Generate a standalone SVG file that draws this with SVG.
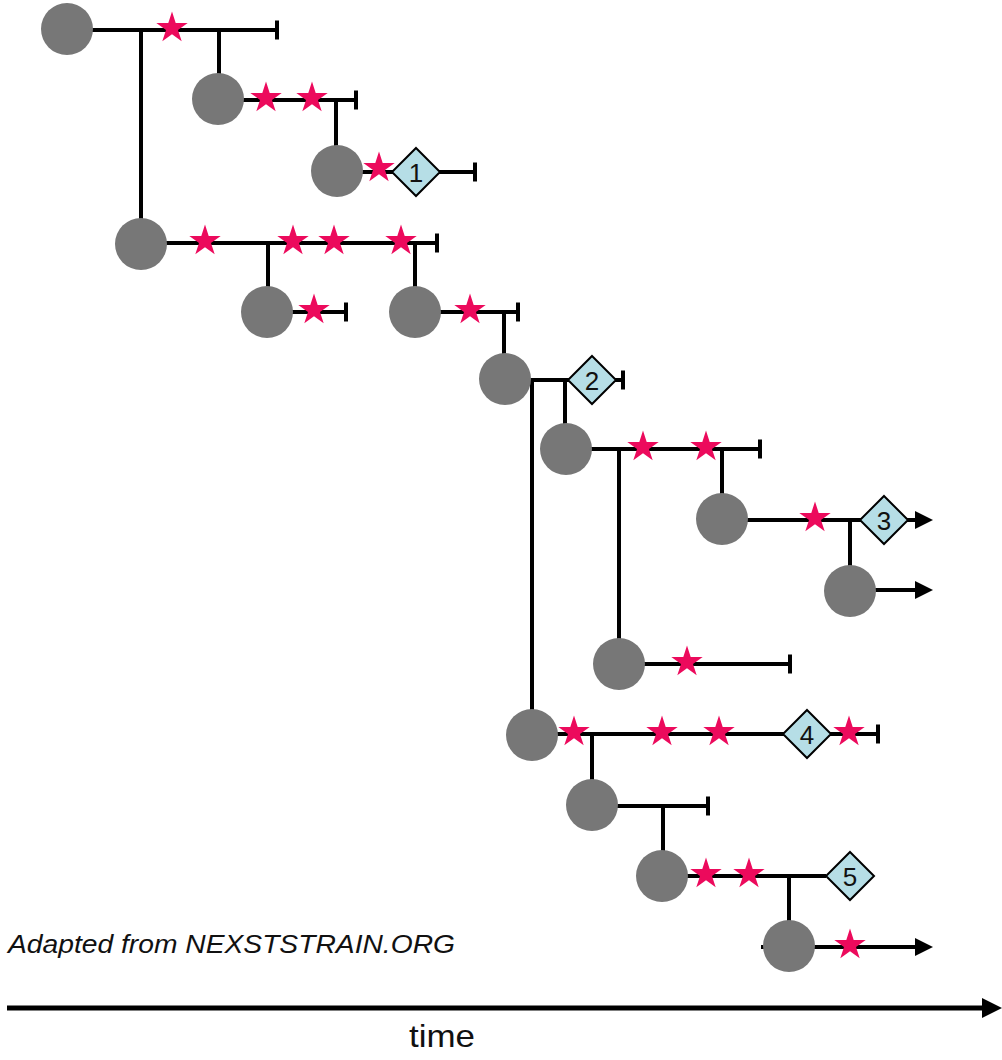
<svg xmlns="http://www.w3.org/2000/svg" xmlns:xlink="http://www.w3.org/1999/xlink" width="1002" height="1060" viewBox="0 0 1002 1060">
  <style>
    .edge { stroke: #000; stroke-width: 4; fill: none; }
    .node { fill: #777777; }
    .mut { fill: #EC0A5C; }
    .clade { fill: #B6DEE6; stroke: #000; stroke-width: 2; }
    .clade-label { font-family: "Liberation Sans", Arial, sans-serif; font-size: 26px; fill: #111; text-anchor: middle; }
    .note { font-family: "Liberation Sans", Arial, sans-serif; font-style: italic; font-size: 26px; fill: #111; }
    .axis-label { font-family: "Liberation Sans", Arial, sans-serif; font-size: 32px; fill: #111; text-anchor: middle; }
  </style>
  <defs>
    <marker id="head" markerUnits="userSpaceOnUse" markerWidth="18" markerHeight="18" refX="5" refY="9" orient="auto">
      <path d="M0,0 L18,9 L0,18 Z" fill="#000"/>
    </marker>
    <marker id="axis-head" markerUnits="userSpaceOnUse" markerWidth="20" markerHeight="20" refX="4" refY="10" orient="auto">
      <path d="M0,0 L20,10 L0,20 Z" fill="#000"/>
    </marker>
    <path id="star" d="M0,-16.5 L3.70,-5.10 L15.69,-5.10 L5.99,1.95 L9.70,13.35 L0,6.3 L-9.70,13.35 L-5.99,1.95 L-15.69,-5.10 L-3.70,-5.10 Z"/>
    <path id="diamond" d="M0,-24 L24,0 L0,24 L-24,0 Z"/>
  </defs>

  <!-- branches: horizontal lineages, vertical splits, end ticks -->
  <g id="connectors" class="edge">
    <!-- horizontal lineages -->
    <path d="M67,30 H277"/>
    <path d="M218,100 H356"/>
    <path d="M337,172 H475"/>
    <path d="M141,243 H437"/>
    <path d="M267,312 H346"/>
    <path d="M415,312 H518"/>
    <path d="M505,380 H623"/>
    <path d="M566,449 H760"/>
    <path d="M722,520 H920" marker-end="url(#head)"/>
    <path d="M850,590 H920" marker-end="url(#head)"/>
    <path d="M619,664 H790"/>
    <path d="M532,734 H878"/>
    <path d="M592,806 H708"/>
    <path d="M662,876 H826"/>
    <path d="M761,947 H920" marker-end="url(#head)"/>
    <!-- vertical splits -->
    <path d="M141,30 V244"/>
    <path d="M219,30 V99"/>
    <path d="M336,100 V171"/>
    <path d="M268,243 V312"/>
    <path d="M415,243 V312"/>
    <path d="M504,312 V379"/>
    <path d="M532,380 V735"/>
    <path d="M565,380 V449"/>
    <path d="M619,449 V664"/>
    <path d="M722,449 V519"/>
    <path d="M850,520 V591"/>
    <path d="M592,734 V805"/>
    <path d="M663,806 V876"/>
    <path d="M789,876 V946"/>
    <!-- end ticks -->
    <path d="M277,20.5 V39.5"/>
    <path d="M356,90.5 V109.5"/>
    <path d="M475,162.5 V181.5"/>
    <path d="M437,233.5 V252.5"/>
    <path d="M346,302.5 V321.5"/>
    <path d="M518,302.5 V321.5"/>
    <path d="M623,370.5 V389.5"/>
    <path d="M760,439.5 V458.5"/>
    <path d="M790,654.5 V673.5"/>
    <path d="M878,724.5 V743.5"/>
    <path d="M708,796.5 V815.5"/>
  </g>

  <!-- sampled lineages -->
  <g id="node-1"><circle class="node" cx="67" cy="29" r="26"/></g>
  <g id="node-2"><circle class="node" cx="218" cy="99" r="26"/></g>
  <g id="node-3"><circle class="node" cx="337" cy="171" r="26"/></g>
  <g id="node-4"><circle class="node" cx="141" cy="244" r="26"/></g>
  <g id="node-5"><circle class="node" cx="267" cy="312" r="26"/></g>
  <g id="node-6"><circle class="node" cx="415" cy="312" r="26"/></g>
  <g id="node-7"><circle class="node" cx="505" cy="379" r="26"/></g>
  <g id="node-8"><circle class="node" cx="566" cy="449" r="26"/></g>
  <g id="node-9"><circle class="node" cx="722" cy="519" r="26"/></g>
  <g id="node-10"><circle class="node" cx="850" cy="591" r="26"/></g>
  <g id="node-11"><circle class="node" cx="619" cy="664" r="26"/></g>
  <g id="node-12"><circle class="node" cx="532" cy="735" r="26"/></g>
  <g id="node-13"><circle class="node" cx="592" cy="805" r="26"/></g>
  <g id="node-14"><circle class="node" cx="662" cy="876" r="26"/></g>
  <g id="node-15"><circle class="node" cx="789" cy="946" r="26"/></g>

  <!-- mutations along branches -->
  <g id="mutations" class="mut">
    <use href="#star" x="172" y="28"/>
    <use href="#star" x="266" y="98"/>
    <use href="#star" x="312" y="98"/>
    <use href="#star" x="379" y="168"/>
    <use href="#star" x="205" y="241"/>
    <use href="#star" x="293" y="241"/>
    <use href="#star" x="334" y="241"/>
    <use href="#star" x="401" y="241"/>
    <use href="#star" x="314" y="310"/>
    <use href="#star" x="470" y="310"/>
    <use href="#star" x="643" y="447"/>
    <use href="#star" x="706" y="447"/>
    <use href="#star" x="815" y="518"/>
    <use href="#star" x="687" y="662"/>
    <use href="#star" x="574" y="732"/>
    <use href="#star" x="662" y="732"/>
    <use href="#star" x="719" y="732"/>
    <use href="#star" x="849" y="732"/>
    <use href="#star" x="706" y="874"/>
    <use href="#star" x="749" y="874"/>
    <use href="#star" x="850" y="945"/>
  </g>

  <!-- numbered clades -->
  <g id="clade-1"><use href="#diamond" class="clade" x="416" y="172"/><text class="clade-label" x="416" y="181.5">1</text></g>
  <g id="clade-2"><use href="#diamond" class="clade" x="592" y="380"/><text class="clade-label" x="592" y="389.5">2</text></g>
  <g id="clade-3"><use href="#diamond" class="clade" x="884" y="520"/><text class="clade-label" x="884" y="529.5">3</text></g>
  <g id="clade-4"><use href="#diamond" class="clade" x="807" y="734"/><text class="clade-label" x="807" y="743.5">4</text></g>
  <g id="clade-5"><use href="#diamond" class="clade" x="850" y="876"/><text class="clade-label" x="850" y="885.5">5</text></g>

  <!-- credit -->
  <text class="note" x="8" y="953" textLength="447" lengthAdjust="spacingAndGlyphs">Adapted from NEXSTSTRAIN.ORG</text>

  <!-- time axis -->
  <g id="time-axis">
    <path d="M7,1008 H986" stroke="#000" stroke-width="5" fill="none" marker-end="url(#axis-head)"/>
    <text class="axis-label" x="442" y="1047" textLength="66" lengthAdjust="spacingAndGlyphs">time</text>
  </g>
</svg>
